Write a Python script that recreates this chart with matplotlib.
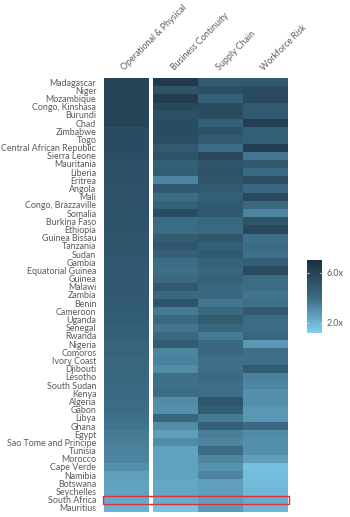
import numpy as np
import matplotlib
matplotlib.use("Agg")
import matplotlib.pyplot as plt
from matplotlib.colors import LinearSegmentedColormap
from matplotlib.patches import Rectangle

countries = ["Madagascar", "Niger", "Mozambique", "Congo, Kinshasa", "Burundi", "Chad",
             "Zimbabwe", "Togo", "Central African Republic", "Sierra Leone", "Mauritania",
             "Liberia", "Eritrea", "Angola", "Mali", "Congo, Brazzaville", "Somalia",
             "Burkina Faso", "Ethiopia", "Guinea Bissau", "Tanzania", "Sudan", "Gambia",
             "Equatorial Guinea", "Guinea", "Malawi", "Zambia", "Benin", "Cameroon", "Uganda",
             "Senegal", "Rwanda", "Nigeria", "Comoros", "Ivory Coast", "Djibouti", "Lesotho",
             "South Sudan", "Kenya", "Algeria", "Gabon", "Libya", "Ghana", "Egypt",
             "Sao Tome and Principe", "Tunisia", "Morocco", "Cape Verde", "Namibia",
             "Botswana", "Seychelles", "South Africa", "Mauritius"]

columns = ["Operational & Physical", "Business Continuity", "Supply Chain", "Workforce Risk"]

operational = [6.0, 6.0, 6.0, 6.0, 6.0, 6.0, 5.6, 5.6, 5.6, 5.5, 5.4, 5.4, 5.4, 5.3, 5.3,
               5.3, 5.3, 5.2, 5.2, 5.1, 5.1, 5.1, 5.0, 5.0, 5.0, 5.0, 4.9, 4.9, 4.8, 4.8,
               4.6, 4.6, 4.4, 4.4, 4.3, 4.3, 4.2, 4.2, 4.1, 4.0, 4.0, 3.9, 3.8, 3.6, 3.5,
               3.4, 3.3, 3.0, 2.6, 2.5, 2.5, 2.3, 2.1]

business = [6.5, 5.2, 6.4, 5.8, 5.4, 5.6, 5.6, 5.5, 4.9, 5.2, 4.6, 4.8, 3.3, 5.0, 4.0,
            4.5, 5.6, 4.0, 4.0, 4.8, 5.1, 4.6, 4.0, 3.9, 4.2, 5.0, 4.2, 5.2, 3.6, 4.2,
            3.7, 4.2, 4.8, 3.3, 3.4, 3.1, 3.9, 3.9, 4.0, 3.1, 3.0, 4.3, 3.1, 2.6, 3.1,
            2.5, 2.5, 2.5, 2.5, 2.4, 2.4, 2.2, 1.6]

supply = [4.9, 5.5, 4.6, 5.6, 5.6, 4.6, 5.3, 4.9, 4.0, 5.8, 5.1, 5.3, 5.1, 4.9, 4.6,
          5.0, 5.0, 4.3, 4.1, 5.1, 4.6, 4.9, 4.5, 4.3, 4.5, 4.2, 4.2, 3.7, 4.2, 4.8,
          4.3, 3.6, 4.2, 4.2, 3.9, 3.9, 4.2, 3.9, 3.9, 5.1, 4.8, 3.6, 4.6, 3.5, 3.3,
          4.0, 3.3, 2.9, 3.3, 2.6, 2.6, 2.6, 2.7]

workforce = [4.9, 5.6, 5.7, 4.9, 5.0, 6.3, 4.6, 4.6, 6.3, 3.7, 5.0, 4.1, 5.5, 4.2, 5.8,
             4.2, 3.3, 5.2, 5.8, 3.9, 4.0, 3.9, 4.6, 5.7, 4.0, 4.0, 3.7, 3.9, 4.9, 4.0,
             4.0, 4.3, 2.8, 3.9, 3.9, 4.8, 3.4, 3.3, 3.0, 3.0, 2.8, 2.8, 4.1, 3.1, 3.0,
             3.0, 2.6, 1.7, 1.8, 1.8, 1.9, 2.2, 2.0]

highlight = "South Africa"
cbar_ticks = [2.0, 6.0]
cbar_labels = ["2.0x", "6.0x"]
vmin, vmax = 1.2, 7.0

cmap = LinearSegmentedColormap.from_list(
    "blues", [(0.0, "#82d1f3"), (0.48, "#3b6c85"), (1.0, "#1b3040")])

plt.rcParams['font.family'] = ['Lato', 'DejaVu Sans']
text_color = "#5a5a5a"
fs = 6.4

fig = plt.figure(figsize=(3.5, 5.17), dpi=100)
W, H = 350, 517
ax = fig.add_axes([104 / W, 1 - 512 / H, 184 / W, 434 / H])

data = np.array([operational, business, supply, workforce]).T
n = len(countries)
gap = 0.09
xedges = np.array([0, 1, 1 + gap, 2 + gap, 3 + gap, 4 + gap])
full = np.full((n, 5), np.nan)
full[:, 0] = data[:, 0]
full[:, 2:] = data[:, 1:]
masked = np.ma.masked_invalid(full)
yedges = np.arange(n + 1)
ax.pcolormesh(xedges, yedges, masked, cmap=cmap, vmin=vmin, vmax=vmax,
              edgecolor="none")
ax.set_xlim(0, 4 + gap)
ax.set_ylim(n, 0)
for s in ax.spines.values():
    s.set_visible(False)
ax.set_xticks([])
ax.set_yticks(np.arange(n) + 0.5)
ax.set_yticklabels(countries, fontsize=fs, color=text_color)
ax.tick_params(axis="y", length=0, pad=5.5)

centers = [0.5, 1.5 + gap, 2.5 + gap, 3.5 + gap]
for c, lab in zip(centers, columns):
    ax.text(c, -0.7, lab, rotation=45, rotation_mode="anchor", ha="left",
            va="bottom", fontsize=fs, color=text_color)

i = countries.index(highlight)
ax.add_patch(Rectangle((-0.03, i), 4 + gap + 0.06, 1, fill=False,
                       edgecolor="#e0303a", lw=1.0, clip_on=False, zorder=5))

cax = fig.add_axes([307 / W, 1 - 333 / H, 15 / W, 73 / H])
grad = np.linspace(vmin, vmax, 256).reshape(-1, 1)
cax.imshow(grad, aspect="auto", cmap=cmap, vmin=vmin, vmax=vmax,
           origin="lower", extent=[0, 1, vmin, vmax])
cax.set_xticks([])
cax.yaxis.tick_right()
cax.set_yticks(cbar_ticks)
cax.set_yticklabels(cbar_labels, fontsize=fs, color=text_color)
cax.tick_params(axis="y", length=0, pad=3)
for t in cbar_ticks:
    cax.plot([0, 0.15], [t, t], color="#dddddd", lw=0.6)
    cax.plot([0.85, 1], [t, t], color="#dddddd", lw=0.6)
cax.set_xlim(0, 1)
cax.set_ylim(vmin, vmax)
for s in cax.spines.values():
    s.set_visible(False)

fig.savefig("out.png", dpi=100)
